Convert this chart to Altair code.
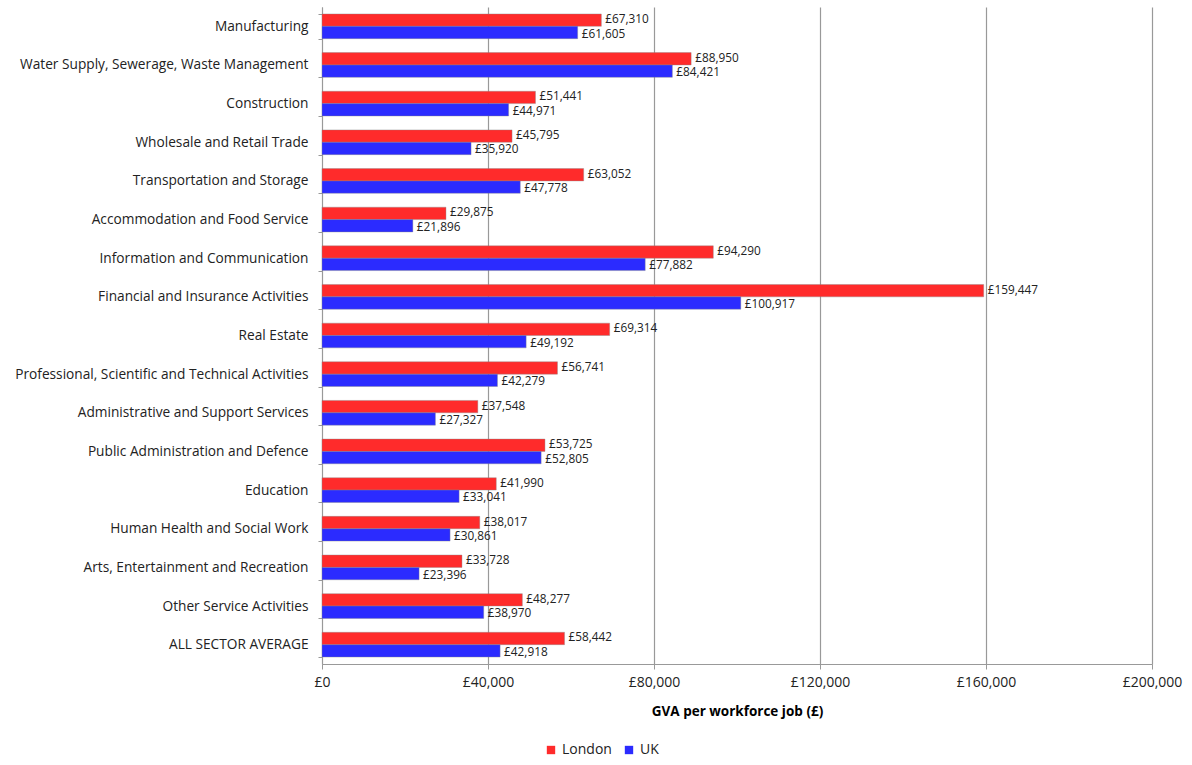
import altair as alt
import pandas as pd

sectors = [
    "Manufacturing",
    "Water Supply, Sewerage, Waste Management",
    "Construction",
    "Wholesale and Retail Trade",
    "Transportation and Storage",
    "Accommodation and Food Service",
    "Information and Communication",
    "Financial and Insurance Activities",
    "Real Estate",
    "Professional, Scientific and Technical Activities",
    "Administrative and Support Services",
    "Public Administration and Defence",
    "Education",
    "Human Health and Social Work",
    "Arts, Entertainment and Recreation",
    "Other Service Activities",
    "ALL SECTOR AVERAGE",
]
london = [67310, 88950, 51441, 45795, 63052, 29875, 94290, 159447, 69314,
          56741, 37548, 53725, 41990, 38017, 33728, 48277, 58442]
uk = [61605, 84421, 44971, 35920, 47778, 21896, 77882, 100917, 49192,
      42279, 27327, 52805, 33041, 30861, 23396, 38970, 42918]
series = ["London", "UK"]
colors = ["#FF2B2B", "#2B2BFF"]
x_ticks = [0, 40000, 80000, 120000, 160000, 200000]

rows = []
for s, lv, uv in zip(sectors, london, uk):
    rows.append({"sector": s, "area": "London", "value": lv})
    rows.append({"sector": s, "area": "UK", "value": uv})
df = pd.DataFrame(rows)

FONT = "Open Sans"

y_enc = alt.Y(
    "sector:N",
    sort=sectors,
    scale=alt.Scale(paddingInner=0.36, paddingOuter=0.18),
    axis=alt.Axis(
        title=None, labelFontSize=13.7, labelColor="#222", labelPadding=10,
        tickBand="extent", tickSize=4, tickColor="#999", domainColor="#999",
        labelLimit=400, labelFont=FONT,
    ),
)
x_enc = alt.X(
    "value:Q",
    scale=alt.Scale(domain=[0, 200000], nice=False),
    axis=alt.Axis(
        values=x_ticks, labelExpr="'£' + format(datum.value, ',')",
        title="GVA per workforce job (£)", titleFontSize=13.5, titleFont=FONT,
        titleFontWeight="bold", titlePadding=15, labelFontSize=14, labelFont=FONT,
        labelColor="#222", gridColor="#999", gridWidth=1.2, domainColor="#999",
        tickColor="#999", tickSize=5, labelPadding=6, labelFlush=False,
    ),
)
yoff = alt.YOffset("area:N", sort=series)

bars = alt.Chart(df).mark_bar(stroke="#888", strokeWidth=0.4).encode(
    y=y_enc,
    x=x_enc,
    yOffset=yoff,
    color=alt.Color(
        "area:N",
        sort=series,
        scale=alt.Scale(domain=series, range=colors),
        legend=alt.Legend(
            title=None, orient="none", direction="horizontal", legendX=222,
            legendY=736, symbolType="square", symbolSize=70, labelFontSize=14,
            labelFont=FONT, labelColor="#222", columnPadding=10, symbolStrokeWidth=0,
        ),
    ),
)


def value_labels(area, dy):
    return alt.Chart(df).transform_filter(
        alt.datum.area == area
    ).transform_calculate(
        label="'£' + format(datum.value, ',')"
    ).mark_text(align="left", baseline="middle", dx=4, dy=dy, fontSize=11.8,
                font=FONT, color="#222").encode(
        y=alt.Y("sector:N", sort=sectors),
        x=alt.X("value:Q"),
        yOffset=yoff,
        text="label:N",
    )


chart = (
    alt.layer(bars, value_labels("London", -1), value_labels("UK", 1))
    .properties(
        width=830, height=657,
        autosize=alt.AutoSizeParams(type="none"),
        padding={"left": 322, "top": 7, "right": 40, "bottom": 101},
    )
    .configure_view(stroke=None)
    .configure_axisY(grid=False)
)

chart.save("out.html", embed_options={"renderer": "svg", "actions": False})
